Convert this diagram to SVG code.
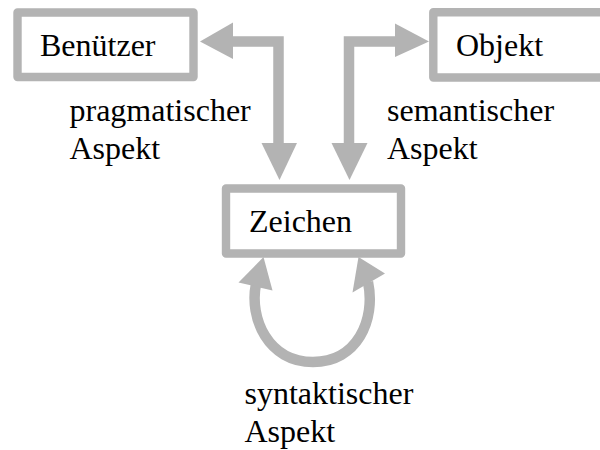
<svg xmlns="http://www.w3.org/2000/svg" width="600" height="450" viewBox="0 0 600 450">
  <style>
    .box { fill: #ffffff; stroke: #b3b3b3; stroke-width: 8.4; stroke-linejoin: round; }
    .conn { fill: none; stroke: #b3b3b3; stroke-width: 10.5; stroke-linejoin: miter; }
    .head { fill: #b3b3b3; stroke: none; }
    text { font-family: "Liberation Serif", "Times New Roman", serif; font-size: 32px; fill: #000000; }
  </style>
  <rect width="600" height="450" fill="#ffffff"/>
  <g id="connectors">
    <!-- pragmatic: Benützer <-> Zeichen -->
    <path class="conn" d="M 232 41.5 H 278.5 V 144"/>
    <polygon class="head" points="200,41.5 233,22.5 233,59"/>
    <polygon class="head" points="279.5,180 261.5,143 297,143"/>
    <!-- semantic: Objekt <-> Zeichen -->
    <path class="conn" d="M 396 41.5 H 349 V 144"/>
    <polygon class="head" points="429,41.5 395,23.5 395,57"/>
    <polygon class="head" points="349.5,180 331.5,143 367.5,143"/>
    <!-- syntactic loop -->
    <path class="conn" d="M 256 284 C 249 318, 268 362, 313 362 C 357 362, 376 320, 368 282"/>
    <polygon class="head" points="263.5,257 238.5,282.5 272.5,290.5"/>
    <polygon class="head" points="358.5,257 352.5,292.5 385,273.5"/>
  </g>
  <g id="benutzer">
    <rect class="box" x="17.5" y="12.5" width="176" height="64.5"/>
    <text x="40" y="56">Benützer</text>
  </g>
  <g id="objekt">
    <rect class="box" x="433.3" y="12.3" width="190" height="65.2"/>
    <text x="456" y="55.5">Objekt</text>
  </g>
  <g id="zeichen">
    <rect class="box" x="226" y="188.5" width="175" height="65"/>
    <text x="249" y="231.5">Zeichen</text>
  </g>
  <g id="labels">
    <text x="69.5" y="121">pragmatischer<tspan x="69.5" y="158.5">Aspekt</tspan></text>
    <text x="387" y="121">semantischer<tspan x="387" y="158.5">Aspekt</tspan></text>
    <text x="244.5" y="403.5">syntaktischer<tspan x="244.5" y="441.5">Aspekt</tspan></text>
  </g>
</svg>
